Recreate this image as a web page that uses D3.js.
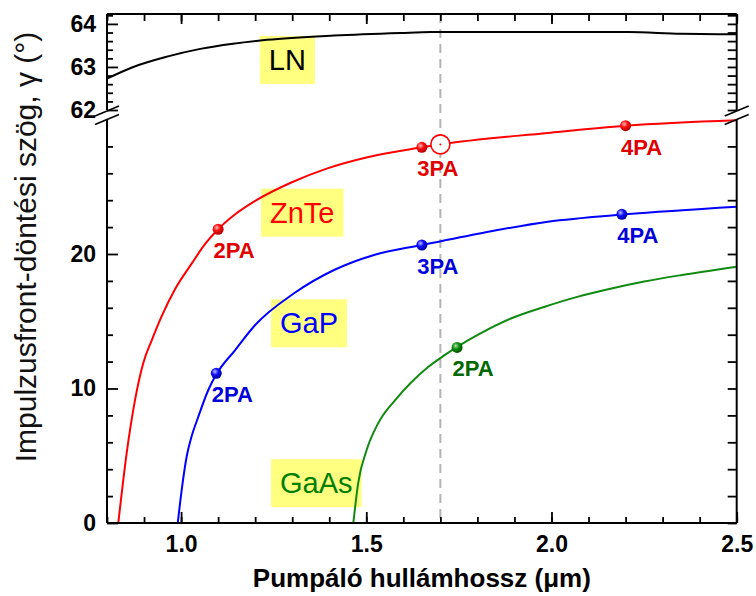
<!DOCTYPE html>
<html lang="hu">
<head>
<meta charset="UTF-8">
<title>Impulzusfront-döntési szög</title>
<script src="https://d3js.org/d3.v7.min.js"></script>
<style>
    body { margin: 0; background: #fff; }
    svg { display: block; font-family: "Liberation Sans", Arial, sans-serif; }
</style>
</head>
<body>
<div id="chart"></div>
<script>
    // Curves: [wavelength (um), angle (deg)]
    const lnCurve = [[0.80, 62.73], [0.871, 63.0], [0.962, 63.24], [1.052, 63.42], [1.14, 63.54], [1.232, 63.63],
        [1.413, 63.73], [1.593, 63.79], [1.675, 63.81], [1.99, 63.81], [2.207, 63.81], [2.35, 63.77], [2.50, 63.76]];
    const znteCurve = [[0.8305, 0], [0.853, 5.18], [0.8756, 9.14], [0.898, 11.9], [0.921, 13.6], [0.948, 15.4],
        [0.984, 17.4], [1.029, 19.3], [1.065, 20.75], [1.10, 21.84], [1.146, 22.95], [1.20, 23.95],
        [1.296, 25.3], [1.395, 26.37], [1.503, 27.2], [1.65, 27.93], [1.70, 28.15], [1.99, 29.0],
        [2.20, 29.54], [2.50, 29.95]];
    const gapCurve = [[0.991, 0], [1.0016, 2.45], [1.015, 4.93], [1.027, 6.3], [1.0465, 7.9], [1.0735, 9.89],
        [1.094, 11.0], [1.146, 12.86], [1.20, 14.72], [1.305, 17.08], [1.413, 18.81], [1.521, 19.93],
        [1.65, 20.67], [1.81, 21.55], [1.99, 22.4], [2.20, 22.95], [2.50, 23.52]];
    const gaasCurve = [[1.465, 0], [1.478, 2.95], [1.501, 5.43], [1.532, 7.41], [1.578, 9.14], [1.623, 10.5],
        [1.667, 11.6], [1.7125, 12.5], [1.802, 14.0], [1.892, 15.22], [1.982, 16.08],
        [2.072, 16.83], [2.144, 17.32], [2.25, 17.95], [2.352, 18.44], [2.50, 19.06]];

    // Marked points: [x, y, label]
    const znteDots = [[1.10, 21.84, "2PA"], [1.65, 27.93, "3PA"], [2.20, 29.54, "4PA"]];
    const gapDots = [[1.095, 11.13, "2PA"], [1.65, 20.67, "3PA"], [2.19, 22.95, "4PA"]];
    const gaasDots = [[1.745, 13.05, "2PA"]];
    const openDot = [1.70, 28.15];
    const dashX = 1.70;

    // Material labels: [name, x, baseline y, segment]
    const materials = [["LN", 1.237, 62.93, "high"], ["ZnTe", 1.240, 22.33, "low"],
        ["GaP", 1.267, 14.10, "low"], ["GaAs", 1.267, 2.21, "low"]];

    // Ticks
    const xMajor = [1.0, 1.5, 2.0, 2.5];
    const xMinor = d3.range(0.8, 2.51, 0.1).map(d => +d.toFixed(1));
    const yLowMajor = [0, 10, 20];
    const yLowMinor = d3.range(2, 29, 2).filter(d => d % 10 !== 0);
    const yHighMajor = [62, 63, 64];
    const yHighMinor = d3.range(62.2, 64.21, 0.2).map(d => +d.toFixed(1)).filter(d => d % 1 !== 0);

    const W = 756, H = 596;
    const pl = 107, pr = 736.7, pt = 14, pb = 523;
    const lowTop = 119.5, highBottom = 110;

    const svg = d3.select("#chart").append("svg")
        .attr("width", W).attr("height", H);

    const x = d3.scaleLinear().domain([0.8, 2.5]).range([pl, pr]);
    const yLow = d3.scaleLinear().domain([0, 30]).range([pb, lowTop]);
    const yHigh = d3.scaleLinear().domain([62, 64.23]).range([highBottom, pt]);

    const defs = svg.append("defs");
    defs.append("clipPath").attr("id", "clipLow").append("rect")
        .attr("x", pl).attr("y", lowTop - 4).attr("width", pr - pl).attr("height", pb - lowTop + 4);
    defs.append("clipPath").attr("id", "clipHigh").append("rect")
        .attr("x", pl).attr("y", pt).attr("width", pr - pl).attr("height", highBottom - pt);

    function shine(id, light, base, dark) {
        const g = defs.append("radialGradient").attr("id", id)
            .attr("cx", "38%").attr("cy", "35%").attr("r", "65%");
        g.append("stop").attr("offset", "0%").attr("stop-color", light);
        g.append("stop").attr("offset", "45%").attr("stop-color", base);
        g.append("stop").attr("offset", "100%").attr("stop-color", dark);
    }
    shine("gRed", "#ffc0c0", "#ff1010", "#b00000");
    shine("gBlue", "#c0c0ff", "#1010ff", "#0000a0");
    shine("gGreen", "#b0e0b0", "#109010", "#005000");

    // dashed reference line
    svg.append("line")
        .attr("x1", x(dashX)).attr("x2", x(dashX))
        .attr("y1", pt).attr("y2", pb)
        .attr("stroke", "#b4b4b4").attr("stroke-width", 2)
        .attr("stroke-dasharray", "9,6");

    // material label boxes
    materials.forEach(([name, mx, my, seg]) => {
        const ys = seg === "high" ? yHigh : yLow;
        const col = {LN: "#000", ZnTe: "#ff0000", GaP: "#0000ff", GaAs: "#008000"}[name];
        const g = svg.append("g");
        const rect = g.append("rect").attr("fill", "#ffff80");
        const t = g.append("text")
            .attr("x", x(mx)).attr("y", ys(my))
            .attr("font-size", 29).attr("fill", col)
            .text(name);
        const bb = t.node().getBBox();
        rect.attr("x", bb.x - 9).attr("width", bb.width + 18)
            .attr("y", ys(my) - 34).attr("height", 48);
    });

    const line = (ys) => d3.line().x(d => x(d[0])).y(d => ys(d[1])).curve(d3.curveMonotoneX);

    svg.append("path").datum(lnCurve)
        .attr("clip-path", "url(#clipHigh)")
        .attr("d", line(yHigh)).attr("fill", "none")
        .attr("stroke", "#000").attr("stroke-width", 2);

    const lowSeries = [
        {curve: znteCurve, dots: znteDots, color: "#ff0000", text: "#e00000", grad: "gRed"},
        {curve: gapCurve, dots: gapDots, color: "#0000ff", text: "#0000d8", grad: "gBlue"},
        {curve: gaasCurve, dots: gaasDots, color: "#108a10", text: "#006800", grad: "gGreen"}
    ];

    lowSeries.forEach(s => {
        svg.append("path").datum(s.curve)
            .attr("clip-path", "url(#clipLow)")
            .attr("d", line(yLow)).attr("fill", "none")
            .attr("stroke", s.color).attr("stroke-width", 2);
    });

    // open circle on the ZnTe curve
    svg.append("circle")
        .attr("cx", x(openDot[0])).attr("cy", yLow(openDot[1])).attr("r", 9.5)
        .attr("fill", "#fff").attr("stroke", "#ff0000").attr("stroke-width", 1.6);
    svg.append("circle")
        .attr("cx", x(openDot[0])).attr("cy", yLow(openDot[1])).attr("r", 1)
        .attr("fill", "#ff0000");

    lowSeries.forEach(s => {
        svg.selectAll(null).data(s.dots).join("circle")
            .attr("cx", d => x(d[0])).attr("cy", d => yLow(d[1])).attr("r", 5.5)
            .attr("fill", `url(#${s.grad})`);
        svg.selectAll(null).data(s.dots).join("text")
            .attr("x", d => x(d[0]) + 16).attr("y", d => yLow(d[1]) + 29)
            .attr("text-anchor", "middle")
            .attr("font-size", 22).attr("font-weight", "bold")
            .attr("fill", s.text)
            .text(d => d[2]);
    });

    // axes
    const tidy = g => {
        g.select(".domain").remove();
        g.selectAll("line").attr("stroke", "#000").attr("stroke-width", 1.8);
        g.selectAll("text").attr("fill", "#000").attr("font-size", 23).attr("font-weight", "bold")
            .attr("font-family", "'Liberation Sans', Arial, sans-serif");
    };

    svg.append("g").attr("transform", `translate(0,${pb})`)
        .call(d3.axisBottom(x).tickValues(xMinor).tickSize(-6).tickFormat("")).call(tidy);
    svg.append("g").attr("transform", `translate(0,${pb})`)
        .call(d3.axisBottom(x).tickValues(xMajor).tickSize(-11).tickPadding(13).tickFormat(d3.format(".1f"))).call(tidy);
    svg.append("g").attr("transform", `translate(0,${pt})`)
        .call(d3.axisTop(x).tickValues(xMinor).tickSize(-7).tickFormat("")).call(tidy);
    svg.append("g").attr("transform", `translate(0,${pt})`)
        .call(d3.axisTop(x).tickValues(xMajor).tickSize(-10).tickFormat("")).call(tidy);

    svg.append("g").attr("transform", `translate(${pl},0)`)
        .call(d3.axisLeft(yLow).tickValues(yLowMinor).tickSize(-6).tickFormat("")).call(tidy);
    svg.append("g").attr("transform", `translate(${pl},0)`)
        .call(d3.axisLeft(yLow).tickValues(yLowMajor).tickSize(-11).tickPadding(11).tickFormat(d3.format("d"))).call(tidy);
    svg.append("g").attr("transform", `translate(${pl},0)`)
        .call(d3.axisLeft(yHigh).tickValues(yHighMinor).tickSize(-6).tickFormat("")).call(tidy);
    svg.append("g").attr("transform", `translate(${pl},0)`)
        .call(d3.axisLeft(yHigh).tickValues(yHighMajor).tickSize(-11).tickPadding(11).tickFormat(d3.format("d"))).call(tidy);

    svg.append("g").attr("transform", `translate(${pr},0)`)
        .call(d3.axisRight(yLow).tickValues(yLowMinor.concat(yLowMajor)).tickSize(-9).tickFormat("")).call(tidy);
    svg.append("g").attr("transform", `translate(${pr},0)`)
        .call(d3.axisRight(yHigh).tickValues(yHighMinor.concat(yHighMajor)).tickSize(-9).tickFormat("")).call(tidy);

    // frame
    const frame = svg.append("g").attr("stroke", "#000").attr("stroke-width", 2).attr("fill", "none");
    frame.append("line").attr("x1", pl).attr("x2", pr).attr("y1", pt).attr("y2", pt);
    frame.append("line").attr("x1", pl).attr("x2", pr).attr("y1", pb).attr("y2", pb);
    [pl, pr].forEach(ax => {
        frame.append("line").attr("x1", ax).attr("x2", ax).attr("y1", pt).attr("y2", highBottom);
        frame.append("line").attr("x1", ax).attr("x2", ax).attr("y1", lowTop).attr("y2", pb);
        // axis break marks
        [highBottom + 1, lowTop].forEach(cy => {
            frame.append("line")
                .attr("x1", ax - 12).attr("y1", cy + 5)
                .attr("x2", ax + 12).attr("y2", cy - 5)
                .attr("stroke-width", 1.6);
        });
    });

    // axis titles
    svg.append("text")
        .attr("x", (pl + pr) / 2).attr("y", 587)
        .attr("text-anchor", "middle")
        .attr("font-size", 26).attr("font-weight", "bold")
        .text("Pumpáló hullámhossz (μm)");

    svg.append("text")
        .attr("transform", "rotate(-90)")
        .attr("x", -247).attr("y", 36)
        .attr("text-anchor", "middle")
        .attr("font-size", 30).attr("fill", "#111")
        .text("Impulzusfront-döntési szög, γ (°)");
</script>
</body>
</html>
